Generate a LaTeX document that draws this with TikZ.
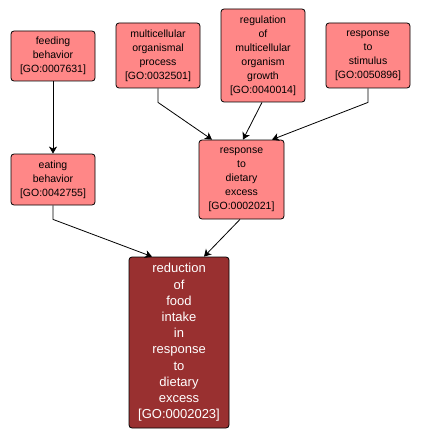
\documentclass[tikz,border=0pt]{standalone}
\usepackage{fontspec}
\setmainfont{Liberation Sans}
\usetikzlibrary{arrows.meta}
\definecolor{lightterm}{RGB}{255,135,135}
\definecolor{darkterm}{RGB}{153,48,48}
\begin{document}
\begin{tikzpicture}[x=1pt,y=-1pt,
  term/.style={draw=black, line width=0.8pt, rounded corners=3pt, fill=lightterm,
    align=center, inner sep=0pt, font=\fontsize{10.5}{14}\selectfont},
  mainterm/.style={term, fill=darkterm, text=white, font=\fontsize{13}{16.2}\selectfont},
  edge/.style={draw=black, line width=0.8pt, -{Stealth[length=7pt,width=8pt,inset=2pt]}}]
\useasboundingbox (0,0) rectangle (421,441);
\node[term, minimum width=84, minimum height=50] (feed) at (53,56) {feeding\\behavior\\{[GO:0007631]}};
\node[term, minimum width=84, minimum height=65] (multi) at (158,55.5) {multicellular\\organismal\\process\\{[GO:0032501]}};
\node[term, minimum width=84, minimum height=93] (reg) at (263,55.5) {regulation\\of\\multicellular\\organism\\growth\\{[GO:0040014]}};
\node[term, minimum width=84, minimum height=65] (stim) at (368,55.5) {response\\to\\stimulus\\{[GO:0050896]}};
\node[term, minimum width=84, minimum height=51] (eat) at (53,179.5) {eating\\behavior\\{[GO:0042755]}};
\node[term, minimum width=85, minimum height=79] (diet) at (241.5,179.5) {response\\to\\dietary\\excess\\{[GO:0002021]}};
\node[mainterm, minimum width=100, minimum height=171] (red) at (179,342.5) {reduction\\of\\food\\intake\\in\\response\\to\\dietary\\excess\\{[GO:0002023]}};
\draw[edge] (feed.south) -- (eat.north);
\draw[edge] (multi.south) -- ++(0,14) -- ([xshift=-29.5]diet.north);
\draw[edge] ([xshift=-1]reg.south) -- ([xshift=1.5]diet.north);
\draw[edge] (stim.south) -- ++(0,14) -- ([xshift=30.5]diet.north);
\draw[edge] (eat.south) -- ++(0,14) -- ([xshift=-27]red.north);
\draw[edge] ([xshift=-1.5]diet.south) -- ([xshift=25]red.north);
\end{tikzpicture}
\end{document}
